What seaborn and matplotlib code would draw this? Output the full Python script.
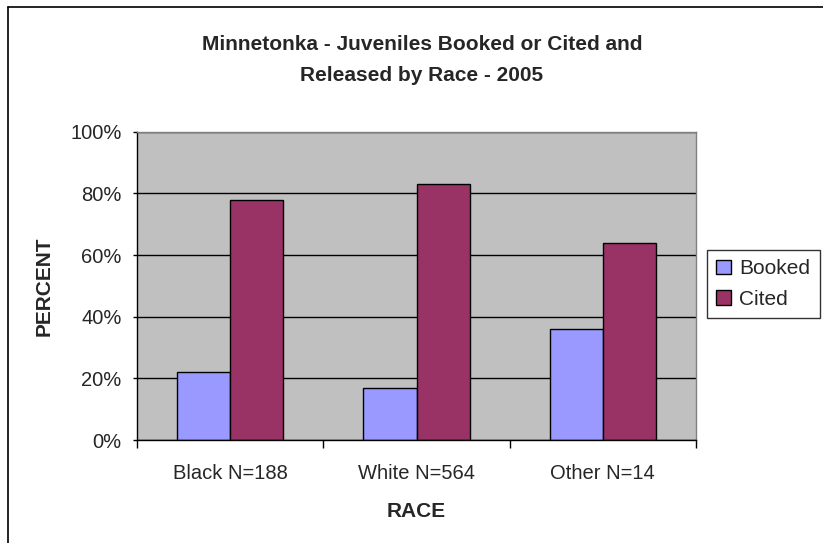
import matplotlib
matplotlib.use("Agg")
import matplotlib.pyplot as plt
from matplotlib.lines import Line2D
from matplotlib.ticker import FixedLocator, PercentFormatter
import seaborn as sns
import pandas as pd

# Share of juveniles booked vs. cited and released, by race (percent)
races = ["Black N=188", "White N=564", "Other N=14"]
booked = [22, 17, 36]
cited = [78, 83, 64]
series = ["Booked", "Cited"]
colors = ["#9999FF", "#993366"]
title_lines = ["Minnetonka - Juveniles Booked or Cited and",
               "Released by Race - 2005"]

df = pd.DataFrame({
    "race": races * 2,
    "status": ["Booked"] * len(races) + ["Cited"] * len(races),
    "percent": booked + cited,
})

sns.set_theme(style="white")
plt.rcParams["font.family"] = ["Liberation Sans", "DejaVu Sans"]

W, H = 823, 543
fig = plt.figure(figsize=(W / 100, H / 100), dpi=100)
ax = fig.add_axes([137 / W, (H - 440) / H, (696 - 137) / W, (440 - 131.7) / H])
ax.set_facecolor("#C0C0C0")

sns.barplot(data=df, x="race", y="percent", hue="status", order=races,
            hue_order=series, palette=colors, width=4 / 7,
            edgecolor="black", linewidth=1, saturation=1, ax=ax, legend=False)

ax.set_xlim(-0.5, 2.5)
ax.set_ylim(0, 100)
ax.yaxis.set_major_locator(FixedLocator([0, 20, 40, 60, 80, 100]))
ax.yaxis.set_major_formatter(PercentFormatter(decimals=0))
ax.grid(axis="y", color="black", linewidth=1)
ax.set_axisbelow(True)

for side in ["top", "right"]:
    ax.spines[side].set_color("#808080")
    ax.spines[side].set_linewidth(1)
for side in ["left", "bottom"]:
    ax.spines[side].set_color("black")
    ax.spines[side].set_linewidth(1)

ax.tick_params(axis="y", which="major", left=True, length=3, width=1,
               color="black", labelsize=14.5, pad=8)
ax.tick_params(axis="x", which="major", bottom=False, length=0,
               labelsize=14.5, pad=17)
ax.xaxis.set_minor_locator(FixedLocator([-0.5, 0.5, 1.5, 2.5]))
ax.tick_params(axis="x", which="minor", bottom=True, length=6, width=1,
               color="black")

ax.set_xlabel("RACE", fontsize=15, fontweight="bold", labelpad=14)
ax.set_ylabel("PERCENT", fontsize=15, fontweight="bold", labelpad=12)

for y_px, line in zip([50, 81], title_lines):
    fig.text(422 / W, 1 - y_px / H, line, ha="center", va="baseline",
             fontsize=15, fontweight="bold")

handles = [plt.Rectangle((0, 0), 1, 1, facecolor=c, edgecolor="black",
                         linewidth=1) for c in colors]
leg = fig.legend(handles, series, loc="upper left",
                 bbox_to_anchor=(707 / W, 1 - 250 / H), fontsize=15,
                 frameon=True, fancybox=False, edgecolor="black",
                 handlelength=0.7, handleheight=0.7, handletextpad=0.4,
                 borderpad=0.45, labelspacing=0.55, borderaxespad=0)
leg.get_frame().set_linewidth(1)

# Chart-area border (left and top edges are the visible ones)
fig.add_artist(Line2D([8 / W, 8 / W], [1 - 7 / H, 0], transform=fig.transFigure,
                      color="black", linewidth=1.2))
fig.add_artist(Line2D([8 / W, 1], [1 - 7 / H, 1 - 7 / H], transform=fig.transFigure,
                      color="black", linewidth=1.2))

fig.savefig("out.png", dpi=100, facecolor="white")
